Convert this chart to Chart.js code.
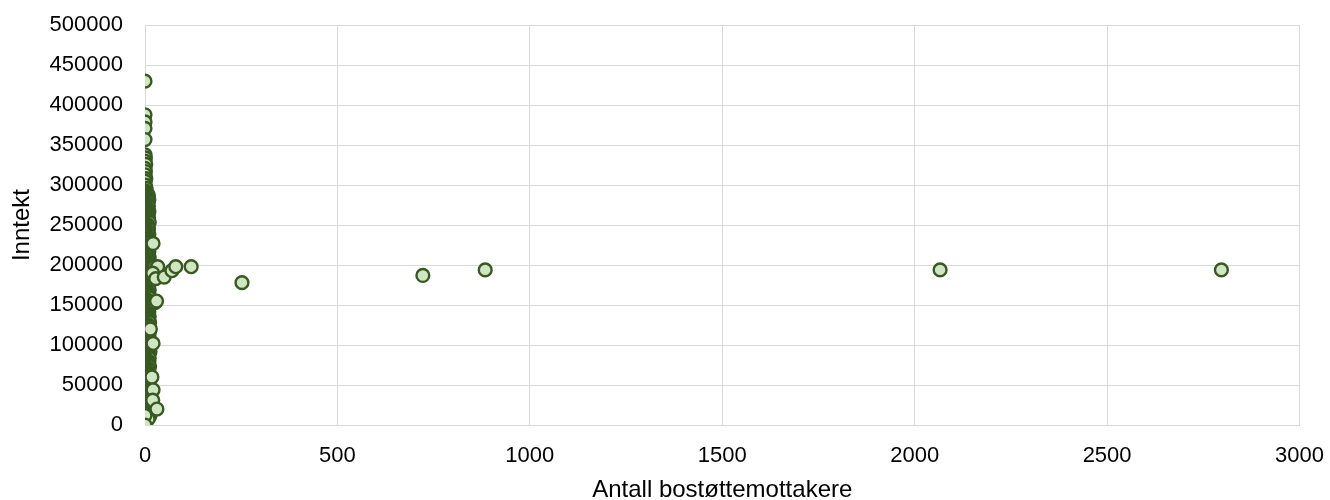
<!DOCTYPE html>
<html>
<head>
<meta charset="utf-8">
<script src="https://cdn.jsdelivr.net/npm/chart.js@4/dist/chart.umd.min.js"></script>
<style>
  html, body { margin: 0; padding: 0; background: #fff; overflow: hidden; }
  #wrap { position: relative; width: 1330px; height: 500px; overflow: hidden; }
  #chart { position: absolute; left: 0; top: -10px; }
</style>
</head>
<body>
<div id="wrap"><canvas id="chart" width="1342" height="515"></canvas></div>
<script>
// Antall bostøttemottakere (x) og inntekt (y), lest av bildet

// enkeltpunkter øverst i søylen ved x = 0
const toppX = [0, 0, 0, 0, 0, 0, 1, 0, 2, 0, 1, 0, 2, 0, 1, 3, 0];
const toppY = [430000, 388000, 379000, 371000, 357000, 338000, 334000, 330000, 326000, 321000,
               317000, 313000, 308000, 305000, 300000, 296000, 293000];

// den tette søylen nær x = 0
const tettX = [
  0, 6, 2, 9, 4, 1, 7, 3, 10, 5,
  8, 0, 4, 2, 6, 9, 1, 5, 3, 7,
  2, 10, 5, 0, 8, 3, 6, 1, 9, 4,
  7, 1, 3, 11, 0, 6, 4, 8, 2, 5,
  9, 3, 0, 7, 5, 2, 10, 4, 1, 8,
  6, 0, 9, 3, 11, 5, 1, 7, 4, 2,
  8, 4, 0, 6, 2, 10, 7, 3, 9, 1,
  5, 11, 2, 8, 0, 4, 6, 12, 3, 9,
  1, 7, 10, 4, 2, 13, 5, 0, 8, 6,
  3, 11, 1, 9, 7, 4, 12, 2, 6, 0,
  10, 5, 8, 3, 1, 9, 6, 11, 4, 7,
  2, 0, 10, 5, 8, 3, 12, 1, 6, 9,
  4, 7, 0, 11, 2, 5, 9, 3, 8, 1,
  6, 10, 4, 0, 7, 2, 11, 5, 9, 3,
  8, 1, 6, 12, 0, 4, 10, 2, 7, 5,
  3, 9, 1, 8, 11, 6, 0, 4, 10, 2,
  7, 5, 12, 3, 9, 1, 6, 8, 0, 11,
  4, 2, 10, 7, 5, 13, 3, 9, 1, 6,
  8, 0, 11, 4, 2, 7, 10, 5, 3, 9,
  6, 12, 1, 8, 4, 0, 10, 3, 7, 2,
  11, 5, 9, 1, 6, 13, 4, 8, 0, 10,
  3, 7, 2, 12, 5, 9, 1, 6, 11, 4,
  8, 0, 10, 3, 7, 14, 2, 5, 9, 1,
  6, 11, 4, 13, 0, 8, 3, 10, 7, 2,
  12, 5, 9, 1, 14, 6, 4, 11, 3, 8
];
const tettY = [
  290500, 289200, 288300, 287100, 285900, 285000, 283800, 282500, 281700, 280400,
  279300, 278100, 277200, 275800, 274900, 273700, 272400, 271600, 270200, 269100,
  268000, 266800, 265900, 264500, 263600, 262300, 261200, 260100, 258900, 257700,
  256800, 255400, 254500, 253200, 252100, 251000, 249700, 248800, 247400, 246300,
  245200, 244000, 242900, 241700, 240600, 239500, 238200, 237300, 236000, 234800,
  233900, 232600, 231500, 230300, 229200, 228100, 226800, 225900, 224600, 223400,
  222500, 221200, 220100, 219000, 217700, 216800, 215500, 214300, 213400, 212100,
  211000, 209900, 208600, 207700, 206400, 205200, 204300, 203000, 201900, 200800,
  199500, 198600, 197300, 196100, 195200, 193900, 192800, 191700, 190400, 189500,
  188200, 187000, 186100, 184800, 183700, 182600, 181300, 180400, 179100, 177900,
  177000, 175700, 174600, 173500, 172200, 171300, 170000, 168800, 167900, 166600,
  165500, 164400, 163100, 162200, 160900, 159700, 158800, 157500, 156400, 155300,
  154000, 153100, 151800, 150600, 149700, 148400, 147300, 146200, 144900, 144000,
  142700, 141500, 140600, 139300, 138200, 137100, 135800, 134900, 133600, 132400,
  131500, 130200, 129100, 128000, 126700, 125800, 124500, 123300, 122400, 121100,
  120000, 118900, 117600, 116700, 115400, 114200, 113300, 112000, 110900, 109800,
  108500, 107600, 106300, 105100, 104200, 102900, 101800, 100700, 99400, 98500,
  97200, 96000, 95100, 93800, 92700, 91600, 90300, 89400, 88100, 86900,
  86000, 84700, 83600, 82500, 81200, 80300, 79000, 77800, 76900, 75600,
  74500, 73400, 72100, 71200, 69900, 68700, 67800, 66500, 65400, 64300,
  63000, 62100, 60800, 59600, 58700, 57400, 56300, 55200, 53900, 53000,
  51700, 50500, 49600, 48300, 47200, 46100, 44800, 43900, 42600, 41400,
  40500, 39200, 38100, 37000, 35700, 34800, 33500, 32300, 31400, 30100,
  29000, 27900, 26600, 25700, 24400, 23200, 22300, 21000, 19900, 18800,
  17500, 16600, 15300, 14100, 13200, 11900, 10800, 9700, 8400, 7500
];

// punkter som stikker litt ut av søylen
const utX = [21, 25, 30, 33, 20, 28, 26, 30, 21, 21, 20, 31, 14, 18];
const utY = [227000, 198000, 196000, 198000, 190000, 183000, 153000, 155000, 102000, 44000, 31000, 20000, 120000, 60000];

// tydelige enkeltpunkter lenger ute
const ytreX = [50, 70, 80, 120, 252, 722, 884, 2066, 2797];
const ytreY = [185000, 193000, 198000, 198000, 178000, 187000, 194000, 194000, 194000];

// nederst i søylen
const bunnX = [0, 0];
const bunnY = [12000, 0];

const antall = [].concat(toppX, tettX, utX, ytreX, bunnX);
const inntekt = [].concat(toppY, tettY, utY, ytreY, bunnY);

const xTicks = { min: 0, max: 3000, step: 500 };
const yTicks = { min: 0, max: 500000, step: 50000 };

const points = antall.map((x, i) => ({ x: x, y: inntekt[i] }));
const gridColor = '#d9d9d9';
const font = 'Liberation Sans, Arial, sans-serif';

new Chart(document.getElementById('chart'), {
  type: 'scatter',
  data: {
    datasets: [{
      data: points,
      pointRadius: 6.4,
      pointHoverRadius: 6.4,
      pointBorderWidth: 2.4,
      pointBackgroundColor: '#d0e5c2',
      pointBorderColor: '#385a22'
    }]
  },
  options: {
    responsive: false,
    animation: false,
    layout: { padding: 0 },
    plugins: { legend: { display: false }, tooltip: { enabled: false } },
    scales: {
      x: {
        type: 'linear',
        min: xTicks.min, max: xTicks.max,
        ticks: { stepSize: xTicks.step, color: '#000', padding: 18, font: { family: font, size: 22 },
                 callback: (v) => String(v) },
        grid: { color: gridColor, drawTicks: false },
        border: { color: gridColor },
        title: { display: true, text: 'Antall bostøttemottakere', color: '#000', padding: { top: 2, bottom: 0 }, font: { family: font, size: 24 } },
        afterFit: (s) => { s.height = 80; }
      },
      y: {
        min: yTicks.min, max: yTicks.max,
        ticks: { stepSize: yTicks.step, color: '#000', padding: 22, font: { family: font, size: 22 },
                 callback: (v) => String(v) },
        grid: { color: gridColor, drawTicks: false },
        border: { color: gridColor },
        title: { display: true, text: 'Inntekt', color: '#000', padding: { top: 8, bottom: 4 }, font: { family: font, size: 24 } },
        afterFit: (s) => { s.width = 145; }
      }
    }
  }
});
</script>
</body>
</html>
